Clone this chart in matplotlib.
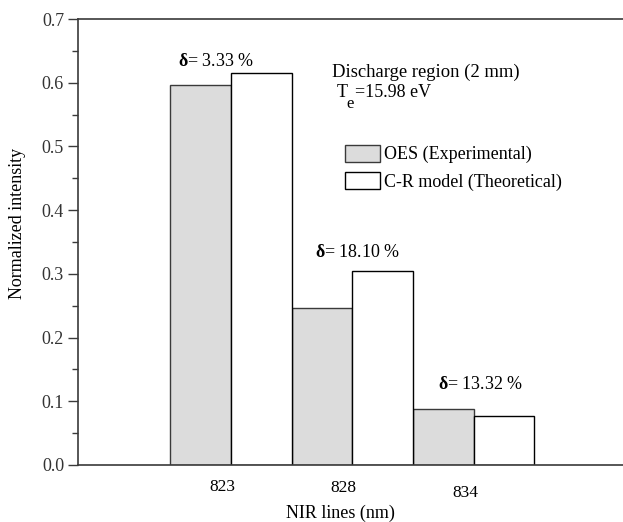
"""
NIR line intensities: OES measurement vs C-R model, discharge region.
"""

import numpy as np
import matplotlib
matplotlib.use("Agg")
import matplotlib.pyplot as plt

# Data
LINES = ["823", "828", "834"]
OES_EXPERIMENTAL = [0.596, 0.246, 0.088]
CR_THEORETICAL = [0.616, 0.305, 0.077]
DELTA_LABELS = ["3.33 %", "18.10 %", "13.32 %"]

plt.rcParams["font.family"] = ["Liberation Serif", "DejaVu Serif"]
plt.rcParams["mathtext.fontset"] = "custom"
plt.rcParams["mathtext.rm"] = "Liberation Serif"
plt.rcParams["mathtext.it"] = "Liberation Serif:italic"
plt.rcParams["mathtext.bf"] = "Liberation Serif:bold"

EDGE = "#3a3a3a"
GRAY = "#dcdcdc"
FS = 13

fig = plt.figure(figsize=(6.23, 5.22), dpi=100)
ax = fig.add_axes([0.1252, 0.1092, 0.8748, 0.8544])

x = np.arange(len(LINES))
width = 0.5
b1 = ax.bar(x - width / 2, OES_EXPERIMENTAL, width, color=GRAY, edgecolor=EDGE,
            linewidth=1.0, label="OES (Experimental)")
b2 = ax.bar(x + width / 2, CR_THEORETICAL, width, color="white", edgecolor="black",
            linewidth=1.0, label="C-R model (Theoretical)")

ax.set_xlim(-1.26, 3.23)
ax.set_ylim(0, 0.7)
yt = np.arange(0, 0.71, 0.1)
ax.set_yticks(yt)
ax.set_yticks(np.arange(0.05, 0.7, 0.1), minor=True)
ax.set_yticklabels([f"{v:.1f}" for v in yt], fontsize=FS, color="#333333")
ax.tick_params(axis="y", which="major", length=7, width=1, pad=3, color=EDGE)
ax.tick_params(axis="y", which="minor", length=4, width=1, color=EDGE)
ax.set_xticks([])

for side in ["left", "top", "bottom"]:
    ax.spines[side].set_color(EDGE)
    ax.spines[side].set_linewidth(1.2)
ax.spines["right"].set_visible(False)

# Staggered category labels below the axis
label_y = [-0.049, -0.052, -0.063]
tr = ax.get_xaxis_transform()
for xi, lab, ly in zip(x, LINES, label_y):
    ax.text(xi - 0.07, ly, lab, transform=tr, ha="center", va="center", fontsize=12.5)

ax.text(0.482, -0.108, "NIR lines (nm)", transform=ax.transAxes, ha="center",
        va="center", fontsize=FS)
fig.text(0.028, 0.572, "Normalized intensity", rotation=90, ha="center",
         va="center", fontsize=FS)

# Deviation annotations
delta_pos = [(-0.12, 0.634), (0.045, 0.333), (0.06, 0.126)]
for xi, (dx, dy), txt in zip(x, delta_pos, DELTA_LABELS):
    ax.text(xi + dx, dy, r"$\mathbf{\delta}$= " + txt, ha="center", va="center",
            fontsize=FS)

ax.text(0.83, 0.617, "Discharge region (2 mm)", ha="left", va="center", fontsize=13.4)
# T_e with a low, nearly full-size subscript as in the original
ax.text(0.874, 0.584, "T", ha="left", va="center", fontsize=FS)
ax.text(0.955, 0.566, "e", ha="left", va="center", fontsize=FS - 1)
ax.text(1.025, 0.584, "=15.98 eV", ha="left", va="center", fontsize=FS)

ax.legend(handles=[b1, b2], loc="upper left", bbox_to_anchor=(0.49, 0.718),
          frameon=False, fontsize=FS, handlelength=1.95, handleheight=1.05,
          handletextpad=0.22, borderpad=0, labelspacing=0.5, borderaxespad=0)

plt.savefig("out.png", dpi=100)
plt.close()
